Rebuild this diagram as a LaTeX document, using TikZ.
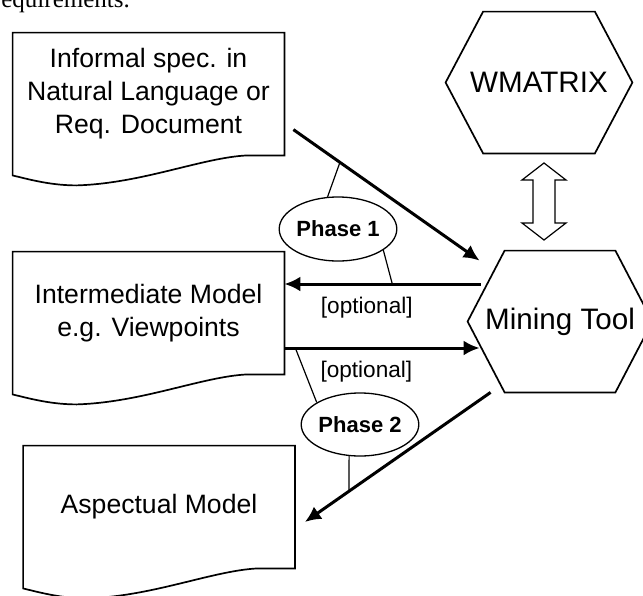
\documentclass[tikz,border=0pt]{standalone}
\usepackage{fontspec}
\setmainfont{Liberation Sans}
\newfontfamily\pageserif{Liberation Serif}
\usetikzlibrary{shapes.geometric}
\usetikzlibrary{arrows.meta}
\usetikzlibrary{calc}

\tikzset{
  docnode/.style={minimum width=135.5pt, minimum height=61pt, inner sep=0pt,
    align=center, font=\fontsize{13.3}{16.5}\selectfont},
  hexnode/.style={minimum height=70.5pt, inner sep=0pt, font=\fontsize{14.8}{17}\selectfont},
  phase/.style={ellipse, draw, line width=0.65pt, minimum width=55pt, minimum height=32pt,
    inner sep=0pt, font=\fontsize{11}{13}\selectfont\bfseries},
  flow/.style={line width=1.5pt, -{Latex[length=8pt,width=7.5pt]}},
  tie/.style={line width=0.6pt},
  optlabel/.style={font=\fontsize{11.3}{13}\selectfont, below=2.5pt},
}

% document outline with wavy bottom
\newcommand{\docoutline}[1]{%
  \draw[line width=0.85pt] (#1.north west) -- (#1.north east) -- (#1.south east)
    -- ($(#1.south west)+(235,0)$)
    .. controls ($(#1.south west)+(190,2)$) and ($(#1.south west)+(130,28)$) .. ($(#1.south west)+(64,30)$)
    .. controls ($(#1.south west)+(40,30)$) and ($(#1.south west)+(20,25)$) .. ($(#1.south west)+(0,20)$)
    -- cycle;}
% hexagon round a node
\newcommand{\hexoutline}[2]{%
  \draw[line width=0.85pt] (#1.west) -- ($(#1.north west)+(#2,0)$) -- ($(#1.north east)+(-#2,0)$)
    -- (#1.east) -- ($(#1.south east)+(-#2,0)$) -- ($(#1.south west)+(#2,0)$) -- cycle;}

\begin{document}
\begin{tikzpicture}[x=0.5pt, y=-0.5pt]
    \useasboundingbox (0,0) rectangle (643,595);
    \clip (0,0) rectangle (643,595);

    \node[anchor=base west, font=\pageserif\fontsize{12.5}{14}\selectfont] (pagetext) at (-14,7) {requirements.};

    % documents
    \node[docnode] (d1) at (148.5,94) {Informal spec. in\\Natural Language or\\Req. Document};
    \node[docnode] (d2) at (148.5,313) {Intermediate Model\\e.g. Viewpoints};
    \node[docnode] (d3) at (159,507) {Aspectual Model};
    \docoutline{d1}
    \docoutline{d2}
    \docoutline{d3}

    % tools
    \node[hexnode, minimum width=93pt] (wm) at (539,82.5) {WMATRIX};
    \node[hexnode, minimum width=92pt] (mt) at (560,321.5) {Mining Tool};
    \hexoutline{wm}{37.5}
    \hexoutline{mt}{37}
    \draw[line width=0.6pt] (544,163) -- (566,180) -- (555,180) -- (555,223) -- (566,223) -- (544,240)
      -- (522,223) -- (533,223) -- (533,180) -- (522,180) -- cycle;

    % flows
    \draw[flow] ($(d1.north east)+(9,97)$) -- coordinate[pos=0.25] (t1) ($(mt.north west)+(12,10)$);
    \draw[flow] ($(mt.west)+(13,-37.5)$) -- coordinate[pos=0.45] (t2)
      node[optlabel, pos=0.58] {[optional]} ($(d2.east)+(0,-29)$);
    \draw[flow] ($(d2.east)+(0,35)$) -- coordinate[pos=0.056] (t3)
      node[optlabel, pos=0.42] {[optional]} ($(mt.west)+(12,26.5)$);
    \draw[flow] ($(mt.south west)+(23,0)$) -- coordinate[pos=0.763] (t4) ($(d3.east)+(10,15)$);

    % phases
    \node[phase] (p1) at (338,229) {Phase 1};
    \node[phase, minimum height=31.5pt] (p2) at (360,424.5) {Phase 2};
    \draw[tie] (p1.108) -- (t1);
    \draw[tie] (p1.-25) -- (t2);
    \draw[tie] (p2.153) -- (t3);
    \draw[tie] (p2.-109) -- (t4);
\end{tikzpicture}
\end{document}
